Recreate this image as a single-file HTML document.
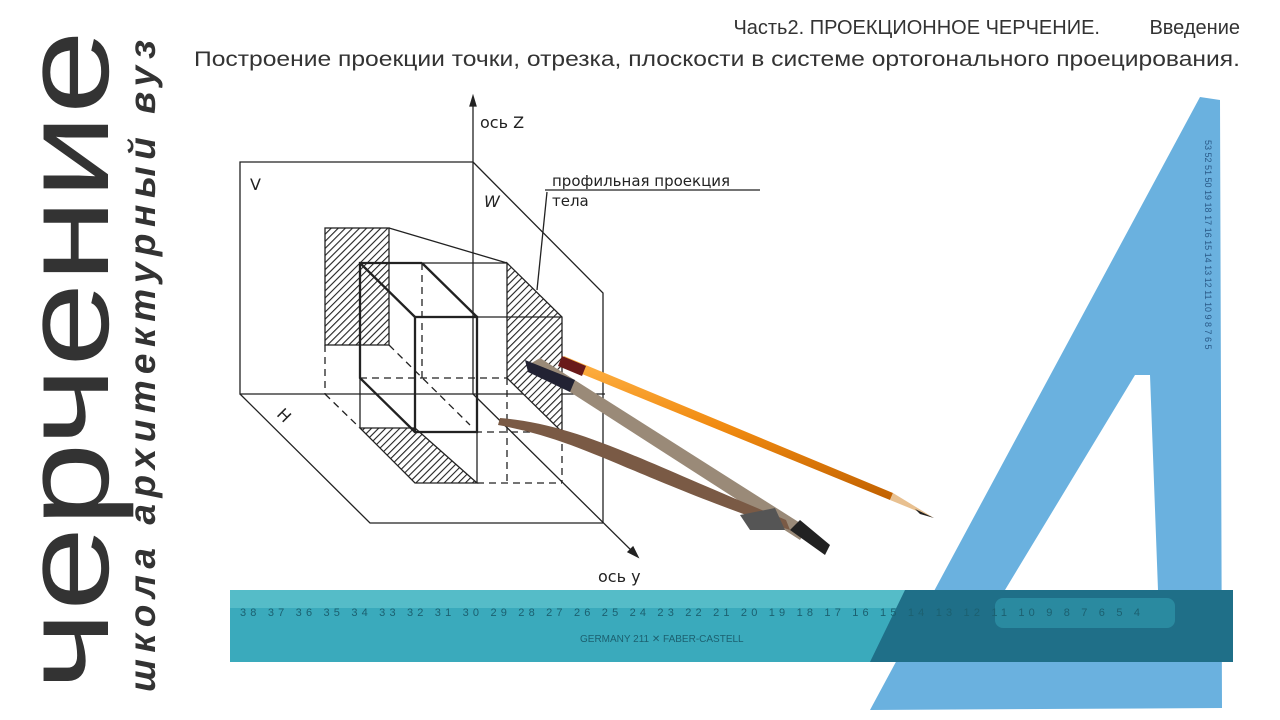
<!DOCTYPE html>
<html><head><meta charset="utf-8">
<style>
html,body{margin:0;padding:0;background:#fff;}
svg{display:block;}
</style></head>
<body>
<svg width="1280" height="720" viewBox="0 0 1280 720" xmlns="http://www.w3.org/2000/svg">
<defs>
<pattern id="hatch" patternUnits="userSpaceOnUse" width="5" height="5" patternTransform="rotate(45)">
<rect width="5" height="5" fill="#fff"/><line x1="0" y1="0" x2="0" y2="5" stroke="#222" stroke-width="2.2"/>
</pattern>
<linearGradient id="pencil" x1="0" y1="0" x2="0" y2="1">
<stop offset="0" stop-color="#ffb347"/><stop offset="0.5" stop-color="#f08a10"/><stop offset="1" stop-color="#c06000"/>
</linearGradient>
</defs>

<!-- vertical titles -->
<text transform="translate(108,690) rotate(-90)" font-family="Liberation Sans, DejaVu Sans, sans-serif" font-size="122" fill="#333" textLength="660" lengthAdjust="spacingAndGlyphs">черчение</text>
<text transform="translate(155,692) rotate(-90)" font-family="Liberation Sans, DejaVu Sans, sans-serif" font-size="37" font-weight="bold" font-style="italic" fill="#333" textLength="652" lengthAdjust="spacing">школа архитектурный вуз</text>

<!-- header -->
<text x="1100" y="34" text-anchor="end" font-family="Liberation Sans, sans-serif" font-size="20" fill="#333">Часть2. ПРОЕКЦИОННОЕ ЧЕРЧЕНИЕ.</text>
<text x="1240" y="34" text-anchor="end" font-family="Liberation Sans, sans-serif" font-size="20" fill="#333">Введение</text>
<text x="1240" y="66" text-anchor="end" font-family="Liberation Sans, sans-serif" font-size="21" fill="#333" textLength="1046" lengthAdjust="spacingAndGlyphs">Построение проекции точки, отрезка, плоскости в системе ортогонального проецирования.</text>

<!-- drawing -->
<g stroke="#222" fill="none" stroke-width="1.3">
<polyline points="473,162 240,162 240,394 605,394"/>
<polyline points="473,162 603,293 603,523"/>
<polyline points="240,394 370,523 603,523"/>
<line x1="473" y1="100" x2="473" y2="394"/>
<polygon points="473,96 470,106 476,106" fill="#222"/>
<line x1="473" y1="394" x2="636" y2="555"/>
<polygon points="638,557 628,552 633,547" fill="#222"/>
<rect x="325" y="228" width="64" height="117" fill="url(#hatch)" stroke="#222"/>
<polygon points="507,263 562,317 562,432 507,378" fill="url(#hatch)"/>
<polygon points="360,428 415,428 477,483 415,483" fill="url(#hatch)"/>
<g stroke-width="2.3">
<polyline points="422,263 360,263 360,378 415,432"/>
<line x1="360" y1="263" x2="415" y2="317"/>
<line x1="422" y1="263" x2="477" y2="317"/>
<rect x="415" y="317" width="62" height="115"/>
</g>
<g stroke-dasharray="7,5">
<line x1="422" y1="263" x2="422" y2="378"/>
<line x1="360" y1="378" x2="507" y2="378"/>
<line x1="325" y1="345" x2="325" y2="394"/>
<line x1="325" y1="394" x2="360" y2="428"/>
<line x1="389" y1="345" x2="470" y2="425"/>
<line x1="415" y1="432" x2="562" y2="432"/>
<line x1="507" y1="378" x2="507" y2="483"/>
<line x1="562" y1="432" x2="562" y2="483"/>
<line x1="477" y1="483" x2="562" y2="483"/>
</g>
<line x1="389" y1="228" x2="507" y2="263"/>
<line x1="422" y1="263" x2="507" y2="263"/>
<line x1="477" y1="317" x2="562" y2="317"/>
<line x1="360" y1="378" x2="360" y2="428"/>
<line x1="477" y1="432" x2="477" y2="483"/>
<line x1="545" y1="190" x2="760" y2="190"/>
<polyline points="547,192 537,290"/>
</g>
<g font-family="DejaVu Sans, sans-serif" fill="#222">
<text x="480" y="128" font-size="16">ось Z</text>
<text x="598" y="582" font-size="16">ось y</text>
<text x="250" y="190" font-size="16">V</text>
<text x="484" y="207" font-size="16" font-style="italic">W</text>
<text x="278" y="420" font-size="16" transform="rotate(45 283 415)">H</text>
<text x="552" y="186" font-size="15">профильная проекция</text>
<text x="552" y="206" font-size="15">тела</text>
</g>

<!-- pencil -->
<g>
<polygon points="560,365 890,500 893,493 564,356" fill="url(#pencil)"/>
<polygon points="890,500 893,493 934,518" fill="#e8c090"/>
<polygon points="915,509 934,518 920,514" fill="#222"/>
<polygon points="558,366 582,376 586,366 562,356" fill="#6a1a1a"/>
</g>
<!-- compass -->
<g>
<polygon points="528,365 800,540 808,528 540,358" fill="#9a8a78"/>
<polygon points="790,530 825,555 830,545 800,520" fill="#222"/>
<polygon points="525,360 575,380 570,392 528,372" fill="#223"/>
<path d="M498,425 C580,440 620,470 760,520 L790,530 L786,520 C640,460 580,425 500,418 Z" fill="#7a5a45"/>
<polygon points="740,515 775,508 785,530 750,530" fill="#555"/>
</g>

<!-- set square -->
<path fill-rule="evenodd" fill="#5aa8dc" fill-opacity="0.9" d="M1200,97 L1220,100 L1222,708 L870,710 Z M1135,375 L1150,375 L1158,590 L1005,590 Z"/>
<text x="1205" y="140" font-family="Liberation Sans, sans-serif" font-size="9" fill="#2a5a88" transform="rotate(90 1205 140)">53 52 51 50 19 18 17 16 15 14 13 12 11 10 9 8 7 6 5</text>

<!-- ruler -->
<g>
<rect x="230" y="590" width="1003" height="72" fill="#3aaabc"/>
<rect x="230" y="590" width="1003" height="18" fill="#55bcc8"/>
<polygon points="905,590 1233,590 1233,662 870,662" fill="#1f6f88"/>
<rect x="995" y="598" width="180" height="30" rx="8" fill="#2a8aa0"/>
<text x="240" y="616" font-family="Liberation Sans, sans-serif" font-size="11" fill="#1c6070" textLength="900" lengthAdjust="spacing">38 37 36 35 34 33 32 31 30 29 28 27 26 25 24 23 22 21 20 19 18 17 16 15 14 13 12 11 10 9 8 7 6 5 4</text>
<text x="580" y="642" font-family="Liberation Sans, sans-serif" font-size="10" fill="#1c6070">GERMANY 211 ✕ FABER-CASTELL</text>
</g>
</svg>
</body></html>
